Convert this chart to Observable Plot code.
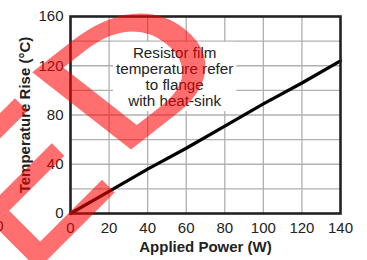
<!DOCTYPE html>
<html><head><meta charset="utf-8">
<script src="https://cdn.jsdelivr.net/npm/d3@7"></script>
<script src="https://cdn.jsdelivr.net/npm/@observablehq/plot@0.6"></script>
<style>
html,body{margin:0;padding:0;background:#fff;}
#chart{position:relative;width:367px;height:260px;overflow:hidden;}
</style></head><body><div id="chart"></div>
<script>
// Data
const power = [0, 20, 40, 60, 80, 100, 120, 140];
const rise = [0, 18, 36, 53, 71, 89, 106, 124];
const xTicks = [0, 20, 40, 60, 80, 100, 120, 140];
const yTicks = [0, 40, 80, 120, 160];
const gridXValues = [20, 40, 60, 80, 100, 120];
const gridYValues = [20, 40, 60, 80, 100, 120, 140];
const noteLines = ["Resistor film", "temperature refer", "to flange", "with heat-sink"];
const notePower = [54];
const noteRise = [111];
const xTitle = "Applied Power (W)";
const yTitle = "Temperature Rise (°C)";
const watermarkLetters = ["E", "D"];

const data = power.map((p, i) => ({power: p, rise: rise[i]}));
const note = notePower.map((p, i) => ({x: p, y: noteRise[i], text: noteLines.join("\n")}));
const font = "'Liberation Sans', Arial, Helvetica, sans-serif";

const plot = Plot.plot({
  width: 367, height: 260,
  marginLeft: 70, marginRight: 27, marginTop: 16, marginBottom: 47,
  style: {fontFamily: font, fontSize: "15px", color: "#222", background: "#fff"},
  x: {domain: [0, 140]},
  y: {domain: [0, 160]},
  marks: [
    Plot.gridX(gridXValues, {stroke: "#b0b0b0", strokeOpacity: 1, strokeWidth: 1.3}),
    Plot.gridY(gridYValues, {stroke: "#b0b0b0", strokeOpacity: 1, strokeWidth: 1.3}),
    Plot.text(note, {x: "x", y: "y", text: "text", lineHeight: 1.06, fontSize: 15.2, fill: "#222"}),
    Plot.line(data, {x: "power", y: "rise", stroke: "#000", strokeWidth: 3.2}),
    Plot.frame({stroke: "#222", strokeWidth: 2.6}),
    Plot.axisX(xTicks, {tickSize: 0, tickPadding: 9, label: null, fontSize: 15, fill: "#222"}),
    Plot.axisY(yTicks, {tickSize: 0, tickPadding: 7, label: null, fontSize: 15, fill: "#222"}),
    Plot.text([xTitle], {text: d => d, frameAnchor: "bottom", dy: 33.5, textAnchor: "middle", lineAnchor: "middle", fontWeight: "bold", fontSize: 15, fill: "#222"}),
    Plot.text([yTitle], {text: d => d, frameAnchor: "left", dx: -45, rotate: -90, textAnchor: "middle", lineAnchor: "middle", fontWeight: "bold", fontSize: 15, fill: "#222"})
  ]
});
document.getElementById("chart").appendChild(plot);

// White box behind the annotation, sized from the rendered text
const ns = "http://www.w3.org/2000/svg";
const noteEl = Array.from(plot.querySelectorAll("text")).find(t => t.textContent.includes("Resistor"));
if (noteEl) {
  const b = noteEl.getBBox();
  const g = noteEl.parentNode;
  const r = document.createElementNS(ns, "rect");
  r.setAttribute("x", b.x - 3); r.setAttribute("y", b.y - 2);
  r.setAttribute("width", b.width + 6); r.setAttribute("height", b.height + 4);
  r.setAttribute("fill", "#fff");
  const tr = noteEl.getAttribute("transform");
  if (tr) r.setAttribute("transform", tr);
  g.insertBefore(r, noteEl);
}

// Clipped neighbouring "0" at the far left edge
const z = document.createElementNS(ns, "text");
z.textContent = "0";
z.setAttribute("x", -0.5); z.setAttribute("y", 231);
z.setAttribute("text-anchor", "middle");
z.setAttribute("font-size", 15); z.setAttribute("fill", "#222");
z.setAttribute("font-family", font);
plot.appendChild(z);

// Red stamp overlay (semi-transparent, composited once)
const wg = document.createElementNS(ns, "g");
wg.setAttribute("opacity", 0.56);
const placements = [
  "translate(26.6,278.4) rotate(-45)",
  "translate(117.2,158.4) scale(1,0.78) rotate(-45) scale(1.24,1.02)"
];
watermarkLetters.forEach((ch, i) => {
  const t = document.createElementNS(ns, "text");
  t.textContent = ch;
  t.setAttribute("transform", placements[i]);
  t.setAttribute("text-anchor", "start");
  t.setAttribute("font-family", font);
  t.setAttribute("font-size", 195);
  t.setAttribute("fill", "#ff0000");
  t.setAttribute("stroke", "#ff0000");
  t.setAttribute("stroke-width", 3);
  t.setAttribute("stroke-linejoin", "miter");
  wg.appendChild(t);
});
plot.appendChild(wg);
</script>
</body></html>
